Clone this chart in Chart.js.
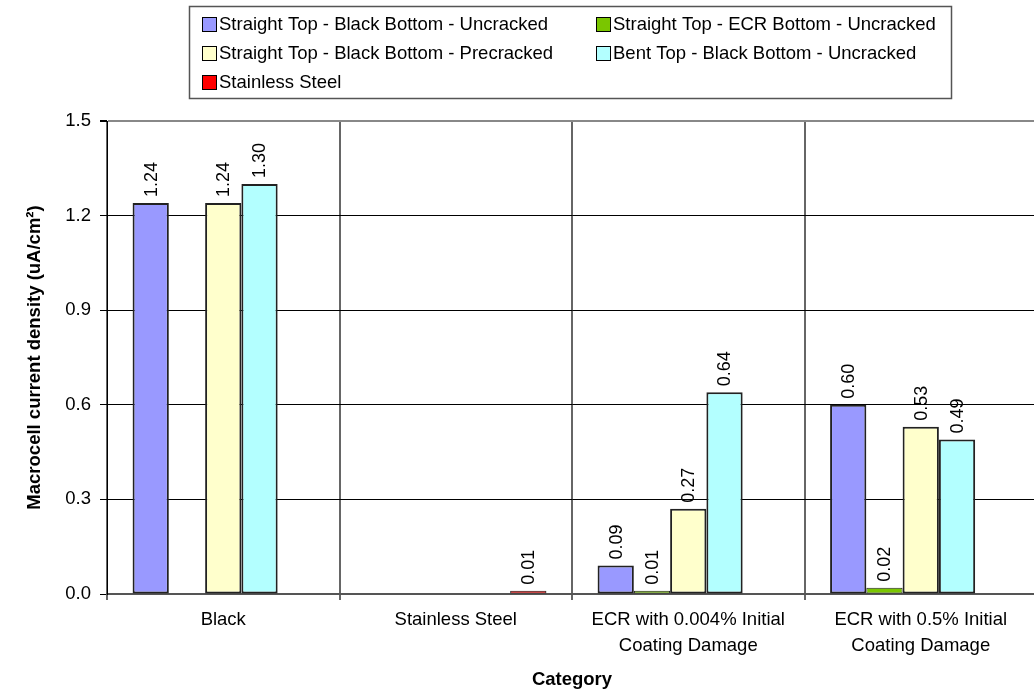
<!DOCTYPE html>
<html>
<head>
<meta charset="utf-8">
<title>Macrocell current density</title>
<script src="https://cdn.jsdelivr.net/npm/chart.js@4.4.0/dist/chart.umd.min.js"></script>
<style>
  html, body { margin: 0; padding: 0; background: #fff; overflow: hidden; }
  #wrap { width: 1050px; height: 692px; }
</style>
</head>
<body>
<div id="wrap"><canvas id="chart"></canvas></div>
<script>
// Categories and series values (uA/cm2)
const categories = [
    'Black',
    'Stainless Steel',
    ['ECR with 0.004% Initial', 'Coating Damage'],
    ['ECR with 0.5% Initial', 'Coating Damage']
];
const seriesNames = [
    'Straight Top - Black Bottom - Uncracked',
    'Straight Top - ECR Bottom - Uncracked',
    'Straight Top - Black Bottom - Precracked',
    'Bent Top - Black Bottom - Uncracked',
    'Stainless Steel'
];
const straightBlackUncracked = [1.24, null, 0.09, 0.60];
const straightEcrUncracked = [null, null, 0.01, 0.02];
const straightBlackPrecracked = [1.24, null, 0.27, 0.53];
const bentBlackUncracked = [1.30, null, 0.64, 0.49];
const stainlessSteel = [null, 0.01, null, null];
const yTicks = [0, 0.3, 0.6, 0.9, 1.2, 1.5];

const FONT = '"Liberation Sans", Arial, sans-serif';

// Rotated value labels above each bar
const barValueLabels = {
    id: 'barValueLabels',
    afterDatasetsDraw(chart) {
        const ctx = chart.ctx;
        ctx.save();
        ctx.font = '18px ' + FONT;
        ctx.fillStyle = '#000';
        ctx.textAlign = 'left';
        ctx.textBaseline = 'middle';
        chart.data.datasets.forEach((ds, i) => {
            const meta = chart.getDatasetMeta(i);
            meta.data.forEach((bar, j) => {
                const v = ds.data[j];
                if (v === null) return;
                ctx.save();
                ctx.translate(bar.x + 1, bar.y - 6);
                ctx.rotate(-Math.PI / 2);
                ctx.fillText(v.toFixed(2), 0, 0);
                ctx.restore();
            });
        });
        ctx.restore();
    }
};

// Boxed two-column legend above the plot
const boxLegend = {
    id: 'boxLegend',
    afterDraw(chart) {
        const ctx = chart.ctx;
        ctx.save();
        ctx.strokeStyle = '#555';
        ctx.lineWidth = 1.5;
        ctx.strokeRect(189.5, 6.5, 762, 92);
        ctx.font = '18.5px ' + FONT;
        ctx.textBaseline = 'middle';
        ctx.textAlign = 'left';
        chart.data.datasets.forEach((ds, i) => {
            const col = i % 2;
            const row = Math.floor(i / 2);
            const x = 202 + col * 394;
            const y = 24 + row * 29;
            ctx.fillStyle = ds.backgroundColor;
            ctx.fillRect(x, y - 7, 15, 15);
            ctx.lineWidth = 1;
            ctx.strokeStyle = '#000';
            ctx.strokeRect(x + 0.5, y - 6.5, 14, 14);
            ctx.fillStyle = '#000';
            ctx.fillText(ds.label, x + 17, y + 1);
        });
        ctx.restore();
    }
};

function bars(label, data, color) {
    return {
        label: label,
        data: data,
        backgroundColor: color,
        borderColor: '#222',
        // thin outline on the very short bars so their fill still shows
        borderWidth: ctx => (ctx.raw !== null && ctx.raw < 0.05) ? 1 : 2,
        borderSkipped: false,
        categoryPercentage: 0.78,
        barPercentage: 1.0
    };
}

new Chart(document.getElementById('chart'), {
    type: 'bar',
    data: {
        labels: categories,
        datasets: [
            bars(seriesNames[0], straightBlackUncracked, '#9999ff'),
            bars(seriesNames[1], straightEcrUncracked, '#7ac600'),
            bars(seriesNames[2], straightBlackPrecracked, '#ffffcc'),
            bars(seriesNames[3], bentBlackUncracked, '#b3ffff'),
            bars(seriesNames[4], stainlessSteel, '#ff0000')
        ]
    },
    options: {
        responsive: true,
        maintainAspectRatio: false,
        animation: false,
        layout: { padding: { top: 121, right: 13, bottom: 0, left: 0 } },
        plugins: {
            legend: { display: false },
            tooltip: { enabled: false }
        },
        scales: {
            x: {
                offset: true,
                afterFit: scale => { scale.height = 98; },
                grid: {
                    offset: true,
                    color: '#666',
                    lineWidth: 2,
                    tickLength: 6
                },
                border: { color: '#555', width: 2 },
                ticks: {
                    color: '#000',
                    padding: 7,
                    maxRotation: 0,
                    autoSkip: false,
                    font: { family: FONT, size: 18.5, lineHeight: 1.4 }
                },
                title: {
                    display: true,
                    text: 'Category',
                    color: '#000',
                    padding: { top: 0, bottom: 1 },
                    font: { family: FONT, size: 18.5, weight: 'bold' }
                }
            },
            y: {
                min: 0,
                max: 1.5,
                afterFit: scale => { scale.width = 107; },
                afterBuildTicks: scale => {
                    scale.ticks = yTicks.map(v => ({ value: v }));
                },
                grid: {
                    color: ctx => (ctx.tick && ctx.tick.value === 1.5) ? '#888' : '#000',
                    lineWidth: ctx => (ctx.tick && ctx.tick.value === 1.5) ? 2 : 1,
                    tickColor: '#000',
                    tickLength: 7
                },
                border: { color: '#000', width: 1 },
                ticks: {
                    color: '#000',
                    padding: 9,
                    callback: v => v.toFixed(1),
                    font: { family: FONT, size: 18.5 }
                },
                title: {
                    display: true,
                    text: 'Macrocell current density (uA/cm²)',
                    color: '#000',
                    padding: { top: 24, bottom: 0 },
                    font: { family: FONT, size: 18.5, weight: 'bold' }
                }
            }
        }
    },
    plugins: [barValueLabels, boxLegend]
});
</script>
</body>
</html>
